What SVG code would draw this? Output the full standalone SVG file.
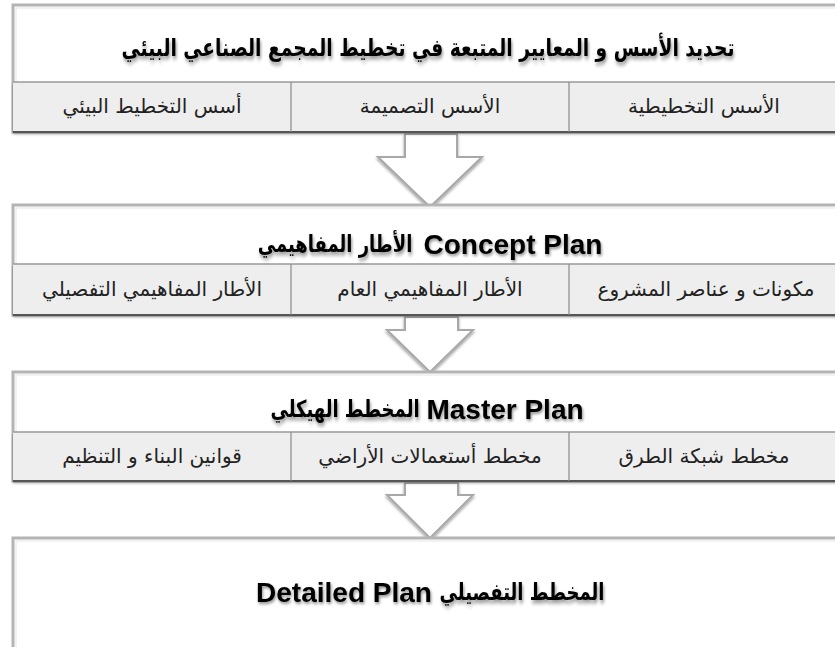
<svg xmlns="http://www.w3.org/2000/svg" width="835" height="647" viewBox="0 0 835 647">
<defs>
<filter id="ts" x="-10%" y="-50%" width="120%" height="200%">
<feGaussianBlur in="SourceAlpha" stdDeviation="1.5"/>
<feOffset dx="1" dy="2" result="b"/>
<feComponentTransfer><feFuncA type="linear" slope="0.45"/></feComponentTransfer>
<feMerge><feMergeNode/><feMergeNode in="SourceGraphic"/></feMerge>
</filter>
<filter id="bs" x="-5%" y="-20%" width="110%" height="140%">
<feGaussianBlur in="SourceAlpha" stdDeviation="1.5"/>
<feOffset dx="0" dy="2"/>
<feComponentTransfer><feFuncA type="linear" slope="0.4"/></feComponentTransfer>
<feMerge><feMergeNode/><feMergeNode in="SourceGraphic"/></feMerge>
</filter>
</defs>
<style>
.frame{fill:#ffffff;stroke:#b4b4b4;stroke-width:3}
.frame2{fill:none;stroke:#e6e6e6;stroke-width:1}
.row{fill:#eeeeee;stroke:none}
.rowtop{stroke:#9a9a9a;stroke-width:1.5}
.rowbot{stroke:#555555;stroke-width:2}
.div{stroke:#8a8a8a;stroke-width:1.2}
.title{font-family:"Liberation Sans","DejaVu Sans",sans-serif;font-weight:bold;font-size:28px;fill:#000;text-anchor:middle}
.ar{font-family:"DejaVu Sans",sans-serif;font-weight:bold;font-size:18px;fill:#000;text-anchor:middle}
.sub{font-family:"DejaVu Sans",sans-serif;font-size:20px;fill:#222;text-anchor:middle}
.arrow{fill:#ffffff;stroke:#a8a8a8;stroke-width:2;stroke-linejoin:miter}
</style>
<rect width="835" height="647" fill="#ffffff"/>

<g id="connectors">
<polygon class="arrow" filter="url(#bs)" points="405,134 457,134 457,157 482,157 430,207 378,157 405,157"/>
<polygon class="arrow" filter="url(#bs)" points="405,317 458,317 458,330 473,330 430,372 387,330 405,330"/>
<polygon class="arrow" filter="url(#bs)" points="405,483 458,483 458,495 473,495 430,538 387,495 405,495"/>
</g>

<g id="node1">
<rect class="frame" x="13" y="5" width="830" height="127"/>
<rect class="frame2" x="16" y="8" width="824" height="121"/>
<rect class="row" filter="url(#bs)" x="13" y="82" width="830" height="50"/>
<line class="rowtop" x1="13" y1="82" x2="843" y2="82"/>
<line class="rowbot" x1="13" y1="132" x2="843" y2="132"/>
<line class="div" x1="291" y1="82" x2="291" y2="132"/>
<line class="div" x1="569" y1="82" x2="569" y2="132"/>
<text class="ar" filter="url(#ts)" transform="translate(428,56) scale(1,1.3)" style="font-size:18.7px">تحديد الأسس و المعايير المتبعة في تخطيط المجمع الصناعي البيئي</text>
<text class="sub" x="704" y="113">الأسس التخطيطية</text>
<text class="sub" x="430" y="113">الأسس التصميمة</text>
<text class="sub" x="152" y="113">أسس التخطيط البيئي</text>
</g>

<g id="node2">
<rect class="frame" x="13" y="205" width="830" height="110"/>
<rect class="frame2" x="16" y="208" width="824" height="104"/>
<rect class="row" filter="url(#bs)" x="13" y="264" width="830" height="51"/>
<line class="rowtop" x1="13" y1="264" x2="843" y2="264"/>
<line class="rowbot" x1="13" y1="315" x2="843" y2="315"/>
<line class="div" x1="291" y1="264" x2="291" y2="315"/>
<line class="div" x1="569" y1="264" x2="569" y2="315"/>
<text class="ar" filter="url(#ts)" transform="translate(335,252) scale(1,1.3)">الأطار المفاهيمي</text>
<text class="title" filter="url(#ts)" x="513" y="254">Concept Plan</text>
<text class="sub" x="706" y="296">مكونات و عناصر المشروع</text>
<text class="sub" x="430" y="296">الأطار المفاهيمي العام</text>
<text class="sub" x="152" y="296">الأطار المفاهيمي التفصيلي</text>
</g>

<g id="node3">
<rect class="frame" x="13" y="372" width="830" height="109"/>
<rect class="frame2" x="16" y="375" width="824" height="103"/>
<rect class="row" filter="url(#bs)" x="13" y="432" width="830" height="49"/>
<line class="rowtop" x1="13" y1="432" x2="843" y2="432"/>
<line class="rowbot" x1="13" y1="481" x2="843" y2="481"/>
<line class="div" x1="291" y1="432" x2="291" y2="481"/>
<line class="div" x1="569" y1="432" x2="569" y2="481"/>
<text class="ar" filter="url(#ts)" transform="translate(345,417) scale(1,1.3)">المخطط الهيكلي</text>
<text class="title" filter="url(#ts)" x="505" y="419">Master Plan</text>
<text class="sub" x="704" y="463">مخطط شبكة الطرق</text>
<text class="sub" x="430" y="463">مخطط أستعمالات الأراضي</text>
<text class="sub" x="152" y="463">قوانين البناء و التنظيم</text>
</g>

<g id="node4">
<rect class="frame" x="13" y="538" width="830" height="120"/>
<rect class="frame2" x="16" y="541" width="824" height="114"/>
<text class="title" filter="url(#ts)" x="344" y="602">Detailed Plan</text>
<text class="ar" filter="url(#ts)" transform="translate(522,600) scale(1,1.3)">المخطط التفصيلي</text>
</g>
</svg>
